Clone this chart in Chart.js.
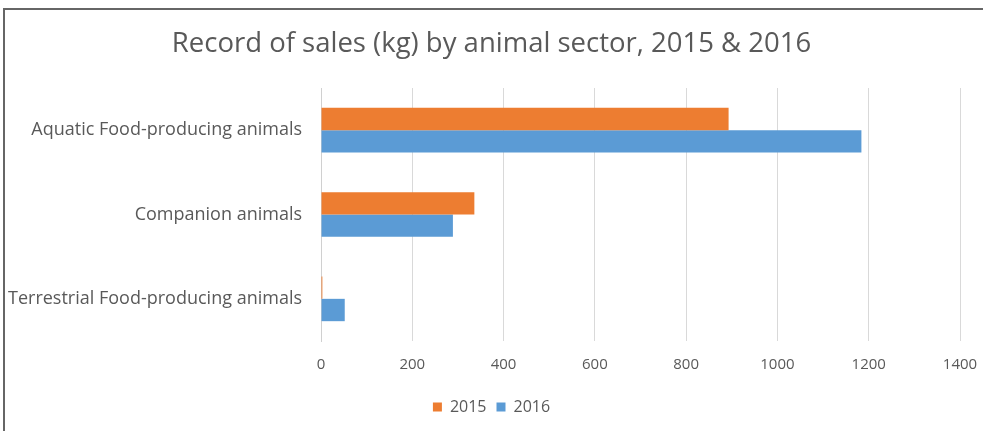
<!DOCTYPE html>
<html>
<head>
<meta charset="utf-8">
<script src="https://cdn.jsdelivr.net/npm/chart.js@4/dist/chart.umd.min.js"></script>
<style>
  body { margin: 0; background: #fff; }
  .wrap { position: relative; width: 983px; height: 431px; overflow: hidden; }
  .frame { position: absolute; left: 3px; top: 8px; width: 1000px; height: 450px; border: 2px solid #666; box-sizing: border-box; }
  canvas { position: absolute; left: 0; top: 0; }
</style>
</head>
<body>
<div class="wrap">
  <canvas id="sales-chart" width="983" height="431"></canvas>
  <div class="frame"></div>
</div>
<script>
// values (kg)
const categories = [
    'Aquatic Food-producing animals',
    'Companion animals',
    'Terrestrial Food-producing animals'
];
const seriesNames = ['2015', '2016'];
const sales2015 = [893, 336, 3];
const sales2016 = [1184, 289, 52];
const xTicks = [0, 200, 400, 600, 800, 1000, 1200, 1400];

const textColor = '#595959';
const fontFamily = '"Open Sans", Lato, sans-serif';

var ctx = document.getElementById('sales-chart').getContext('2d');
window.salesChart = new Chart(ctx, {
    type: 'bar',
    data: {
        labels: categories,
        datasets: [
            {
                label: seriesNames[0],
                data: sales2015,
                backgroundColor: '#ED7D31',
                categoryPercentage: 0.53,
                barPercentage: 1.0
            },
            {
                label: seriesNames[1],
                data: sales2016,
                backgroundColor: '#5B9BD5',
                categoryPercentage: 0.53,
                barPercentage: 1.0
            }
        ]
    },
    options: {
        indexAxis: 'y',
        responsive: false,
        animation: false,
        layout: {
            padding: { left: 0, right: 0, top: 0, bottom: 6 }
        },
        plugins: {
            title: {
                display: true,
                text: 'Record of sales (kg) by animal sector, 2015 & 2016',
                color: textColor,
                font: { family: fontFamily, size: 27.5, weight: 'normal' },
                padding: { top: 28, bottom: 27 }
            },
            legend: {
                position: 'bottom',
                labels: {
                    color: textColor,
                    font: { family: fontFamily, size: 16 },
                    boxWidth: 9,
                    boxHeight: 9,
                    padding: 10
                }
            },
            tooltip: { enabled: false }
        },
        scales: {
            x: {
                min: 0,
                max: 1400,
                afterBuildTicks: (axis) => {
                    axis.ticks = xTicks.map(v => ({ value: v }));
                },
                afterFit: (axis) => {
                    axis.paddingRight = 23;
                },
                grid: { color: '#d9d9d9', drawTicks: false },
                border: { display: false },
                ticks: {
                    color: textColor,
                    font: { family: fontFamily, size: 15 },
                    padding: 15,
                    callback: (v) => String(v)
                }
            },
            y: {
                grid: { display: false, drawTicks: false },
                border: { display: true, color: '#d0d0d0' },
                ticks: {
                    color: textColor,
                    font: { family: fontFamily, size: 18 },
                    padding: 19
                },
                afterFit: (axis) => {
                    axis.width = 321;
                }
            }
        }
    }
});
</script>
</body>
</html>
